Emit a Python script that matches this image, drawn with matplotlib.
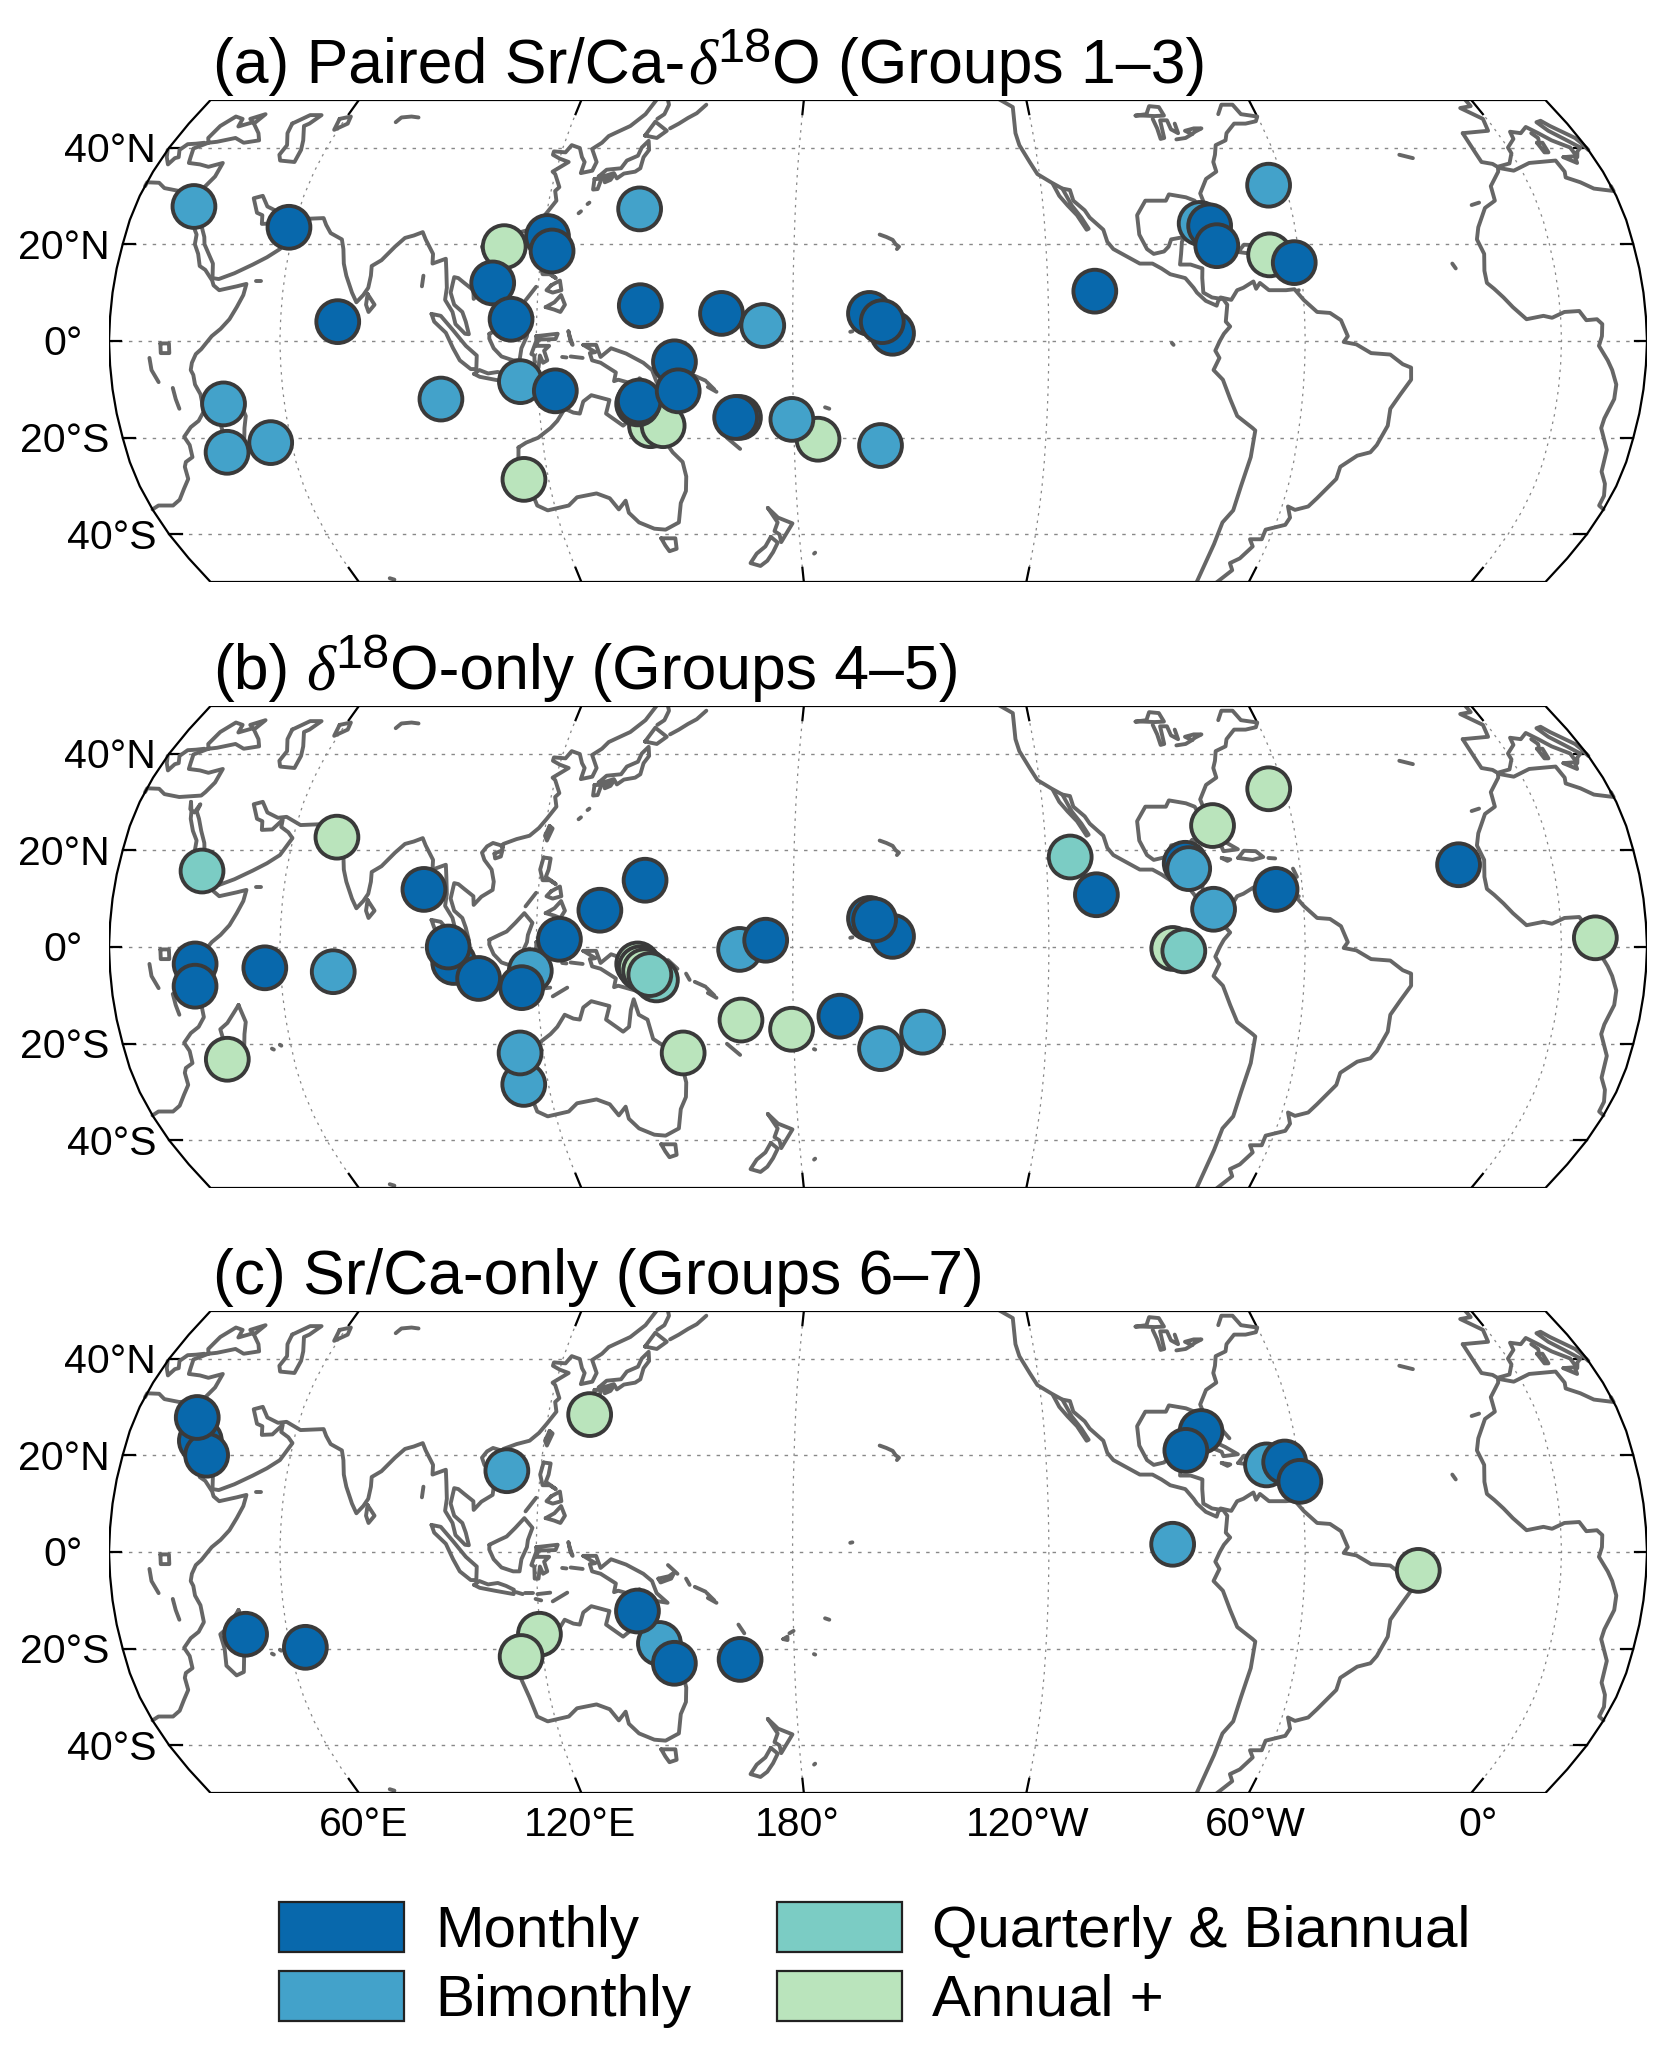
import matplotlib
matplotlib.use("Agg")
import matplotlib.pyplot as plt
import numpy as np
from matplotlib.patches import Patch, Polygon

plt.rcParams["font.family"] = ["Liberation Sans", "DejaVu Sans"]

# Robinson projection table
ROB_LAT = [0, 5, 10, 15, 20, 25, 30, 35, 40, 45, 50, 55]
ROB_PLEN = [1.0, 0.9986, 0.9954, 0.99, 0.9822, 0.973, 0.96, 0.9427, 0.9216, 0.8962, 0.8679, 0.835]
ROB_PDFE = [0.0, 0.062, 0.124, 0.186, 0.248, 0.31, 0.372, 0.434, 0.4958, 0.5571, 0.6176, 0.6769]
LON0 = 200.0

CLASS_NAMES = ["Monthly", "Bimonthly", "Quarterly & Biannual", "Annual +"]
CLASS_COLORS = ["#0868ac", "#43a2ca", "#7bccc4", "#bae4bc"]
M, B, Q, A = 0, 1, 2, 3

# title pieces: plain text, greek letter, superscript, plain text
TITLE_A = ["(a) Paired Sr/Ca-", "δ", "18", "O (Groups 1–3)"]
TITLE_B = ["(b)", "δ", "18", "O-only (Groups 4–5)"]
TITLE_C = ["(c) Sr/Ca-only (Groups 6–7)"]

# sites, listed in drawing order
a_lon = [34.2, 58.7, 73.4, 45.6, 44.0, 55.0, 97.0, 111.0, 121.0, 122.5, 109.2, 114.0, 142.3, 144.2, 163.3, 173.0,
         146.0, 149.0, 114.0, 116.0, 124.1, 152.3, 143.3, 143.7, 153.0, 167.2, 166.3, 185.7, 179.6, 200.6, 198.0, 203.4,
         201.0, 251.0, 277.4, 279.6, 280.7, 296.0, 293.0, 298.6]
a_lat = [27.8, 23.5, 4.0, -13.0, -23.0, -21.0, -12.0, 19.5, 21.6, 18.6, 12.0, 4.5, 27.3, 7.3, 5.7, 3.2,
         -17.5, -17.5, -28.6, -8.4, -10.3, -4.3, -13.0, -12.4, -10.3, -15.8, -15.8, -20.3, -16.2, -21.6, 5.7, 1.6,
         4.0, 10.3, 24.3, 23.8, 19.7, 32.2, 17.8, 16.2]
a_cls = [B, M, M, B, B, B, B, A, M, M, M, M, B, M, M, B,
         A, A, A, B, M, M, M, M, M, M, M, A, B, B, M, M,
         M, M, B, M, M, B, A, M]

b_lon = [40.0, 70.4, 40.0, 39.6, 56.3, 72.3, 44.0, 93.0, 100.6, 99.4, 106.3, 118.5, 116.3, 114.0, 114.4, 125.4,
         134.7, 145.0, 148.0, 143.7, 144.3, 145.3, 146.5, 167.6, 173.7, 167.6, 179.5, 191.0, 200.6, 210.6, 153.4, 203.4,
         198.0, 199.2, 245.7, 251.4, 272.9, 273.6, 280.5, 278.8, 296.2, 293.8, 269.0, 271.6, 337.7, 368.0]
b_lat = [15.7, 22.7, -3.5, -8.1, -4.3, -5.1, -23.2, 11.9, -3.2, 0.0, -6.5, -4.9, -8.4, -28.4, -21.9, 1.6,
         7.6, 13.8, -6.8, -3.5, -4.3, -4.9, -5.7, -0.5, 1.4, -15.1, -17.0, -14.3, -21.0, -17.6, -21.9, 2.2,
         5.9, 5.6, 18.6, 10.8, 17.3, 16.2, 25.1, 7.8, 32.7, 11.9, -0.3, -0.8, 17.0, 1.9]
b_cls = [Q, A, M, M, M, B, A, M, M, M, M, B, M, B, B, M,
         M, M, Q, A, A, A, Q, B, M, A, A, M, B, B, A, M,
         M, M, Q, M, M, B, A, B, A, M, A, Q, M, A]

c_lon = [37.6, 40.0, 35.0, 50.0, 63.6, 112.0, 130.0, 148.0, 143.3, 151.2, 119.7, 114.7, 167.0, 269.0, 277.7, 273.5,
         292.3, 296.7, 299.7, 326.6]
c_lat = [23.0, 20.0, 27.8, -17.0, -19.7, 16.8, 28.4, -18.9, -12.2, -23.0, -17.0, -21.6, -22.2, 1.6, 24.9, 21.0,
         18.0, 18.6, 14.6, -3.8]
c_cls = [M, M, M, M, M, B, A, B, M, M, A, A, M, B, M, M,
         B, M, M, A]

LAT_TICKS = [40, 20, 0, -20, -40]
LAT_LABELS = ["40°N", "20°N", "0°", "20°S", "40°S"]
LON_TICKS = [60, 120, 180, 240, 300, 360]
LON_LABELS = ["60°E", "120°E", "180°", "120°W", "60°W", "0°"]
LON_NUDGE = [5, -1, -7, 1, 7, 7]

# coastlines, lon/lat read by eye; lon runs 20..380
africa_east = [(20, -34.8), (22, -34), (25.6, -34), (28, -32.8), (30.5, -30.5), (32.5, -28.5), (32.8, -26), (33.5, -25),
               (35.4, -24), (35.5, -21.5), (34.7, -19.8), (36.8, -17.8), (39, -16.5), (40.7, -14.5), (40.5, -11),
               (39.5, -9), (39.3, -7), (38.8, -6), (39.2, -4.5), (40.2, -2.7), (41.5, -1.7), (44, 1), (46, 2.5),
               (48, 4.5), (49.5, 7), (50.8, 9.5), (51.2, 11.8), (49, 11.3), (45, 10.5), (43.5, 11.5), (43, 12.5),
               (41, 14.7), (39.5, 15.5), (38.5, 18), (37.2, 20), (37, 22), (35.5, 24), (34, 26.5), (33.5, 28), (32.5, 30)]
asia_south = [(32.5, 30), (33, 28.5), (34.3, 27.8), (35, 29.5), (34.8, 28), (36, 26.5), (37.5, 24), (39, 21.5), (39.5, 20),
              (41, 18), (42.5, 16), (43, 13), (44.5, 12.8), (48, 14), (52, 15.8), (55, 17.3), (57.7, 19), (59.8, 22.5),
              (58.5, 23.7), (56.5, 24.8), (56.3, 26.3), (54.5, 24.3), (52, 24.2), (51.5, 26), (50, 26.5), (48, 29.5),
              (50, 30), (52, 27.8), (55, 26.7), (57, 26.9), (61, 25.2), (66.5, 25.4), (67.5, 24), (69, 22.3), (72, 21),
              (72.8, 19), (73.5, 16), (74.5, 13.5), (76.3, 10), (77.5, 8), (79, 9.5), (80, 11), (80.3, 13.5), (80.2, 15.5),
              (82.3, 16.7), (85, 19.5), (87, 21.3), (89, 21.8), (91, 22.5), (92, 21), (94.3, 18), (94.5, 16), (96, 16.5),
              (97.5, 17), (98, 14.5), (98.5, 11), (98.3, 8.5), (100.2, 6), (101, 3.5), (103.3, 1.5), (104.2, 1.4),
              (103.4, 4), (102.5, 6), (100.5, 7.5), (99.5, 10), (100, 13.2), (101, 13), (102.5, 12), (104.8, 10.5),
              (105, 8.7), (106.7, 10.4), (109.2, 11.8), (109.3, 13.5), (108.5, 16), (106.5, 18), (105.7, 19.5),
              (106.7, 20.8), (108, 21.5), (110, 21), (110.5, 20.3), (110.5, 21.3), (113.5, 22.3), (116.5, 23),
              (118.5, 24.6), (120, 26.5), (121.8, 29), (121, 31), (121.8, 31.8), (120, 34.5), (119.2, 35), (122.5, 37),
              (120, 37.7), (118, 38.5), (118, 39.2), (121, 39), (122, 40.5), (124.3, 39.9), (125.5, 38), (126.5, 37),
              (126.3, 34.7), (129, 35.2), (129.5, 37), (127.5, 39.7), (129.5, 41), (130.7, 42.4), (132.5, 43.2),
              (135.5, 44.5), (138.5, 47), (140.5, 50.5)]
med_east = [(20, 32), (20, 32.8), (23, 32.7), (25, 31.6), (29, 31), (32.5, 31.2), (34.2, 31.3), (34.8, 32), (36, 34), (36, 36.8),
            (33, 36), (30.5, 36.5), (27.5, 36.8), (27, 38), (26.3, 39.8), (29, 41), (31, 41.2), (35, 42), (38, 41), (41.5, 41.5),
            (40, 43), (37, 45), (38, 47), (35, 46), (36.5, 45.3), (33.5, 44.4), (33, 46), (30.7, 46.5), (28.7, 44.5),
            (28, 42), (29, 41)]
greece = [(20, 39.5), (21, 38), (22.5, 36.5), (23.2, 37.8), (24, 38), (23, 39.5), (24, 40.7), (26, 40.8), (28, 41)]
caspian = [(47, 45), (50, 46.8), (53, 46.8), (51.5, 45), (50.5, 44.5), (52.8, 41.5), (53.8, 39.5), (53.8, 37), (50, 37.3),
           (49, 38.5), (49.5, 40.5), (47.5, 43), (47, 45)]
aral = [(58.5, 46), (61, 46.5), (61.5, 45), (59, 43.7), (58.5, 46)]
balkhash = [(73.8, 45.3), (74.5, 46.3), (77, 46.5), (79, 46.3)]
victoria = [(32, -0.5), (34, -0.5), (34, -2.5), (32, -2.5), (32, -0.5)]
tanganyika = [(29.3, -3.5), (29.6, -6), (31, -8.5)]
malawi = [(34.2, -9.7), (34.5, -12), (35, -14)]
madagascar = [(49.3, -12), (50.4, -15.5), (49.5, -18), (47.5, -24.8), (45.5, -25.5), (43.7, -23.5), (44.3, -20), (44, -17),
              (46, -15.7), (48, -13.5), (49.3, -12)]
mascarene = [(55.3, -21), (55.7, -21.2)]
mauritius = [(57.4, -20.2), (57.7, -20.4)]
socotra = [(53.4, 12.5), (54.4, 12.5)]
sri_lanka = [(80, 9.7), (81.8, 7.5), (80.5, 6), (79.8, 7.5), (80, 9.7)]
andaman = [(92.7, 13.5), (92.6, 11.3)]
sumatra = [(95.3, 5.6), (97.5, 5.2), (100.5, 2.2), (103.5, -1), (106, -3), (105.8, -5.8), (104.5, -5.8), (102, -4), (100.5, -1.5),
           (98.8, 1.7), (96, 4), (95.3, 5.6)]
java = [(105.2, -6.8), (106.5, -6), (108.5, -6.7), (110.8, -6.4), (112.7, -7), (114.5, -7.8), (114.4, -8.7), (110, -8),
        (106.5, -7.4), (105.2, -6.8)]
borneo = [(109, 1.5), (111.3, 2.5), (113, 3.2), (115, 5), (117, 7), (119, 5), (118, 2.5), (117.8, 1), (116.5, -1.5), (116, -4),
          (114.5, -4), (111.8, -3.2), (110, -1.5), (109, 0.5), (109, 1.5)]
sulawesi = [(120, 1), (125, 1.5), (124.5, 0.4), (120.5, 0.3), (120, -1), (123, -1), (121.8, -2), (122.5, -4), (121.5, -4.5),
            (120.8, -3), (120.4, -5.5), (119.5, -5.5), (119.5, -3), (118.8, -2.7), (120, 0), (120, 1)]
bali_lombok = [(115, -8.3), (116.5, -8.7)]
sumbawa = [(117, -8.5), (119, -8.5)]
flores = [(120, -8.7), (123, -8.4)]
timor = [(123.5, -10.2), (127, -8.4)]
sumba = [(119.5, -9.7), (120.8, -10)]
halmahera = [(127.5, 2), (128, 0), (128.5, -0.8), (127.8, 1), (127.5, 2)]
seram = [(128, -3.2), (130.8, -3.5)]
buru = [(126, -3.3), (127, -3.4)]
luzon = [(120.5, 18.5), (122.2, 18.3), (122, 16), (121.5, 14.5), (124, 13), (122.5, 13.8), (120.8, 13.8), (120, 16), (120.5, 18.5)]
mindanao = [(122, 7), (124, 8), (125.5, 9.5), (126.5, 7.5), (125.5, 6), (124, 6.5), (122, 7)]
visayas = [(123, 11.5), (125, 12.5), (125.5, 10.5), (123.5, 10), (122, 10.5), (123, 11.5)]
palawan = [(117.2, 8.4), (119.5, 11.2)]
hainan = [(108.7, 19.3), (110.5, 20), (110.3, 18.7), (109, 18.3), (108.7, 19.3)]
taiwan = [(121, 25), (120.2, 23), (120.8, 22), (121.8, 24.5), (121, 25)]
ryukyu = [(127.7, 26.4), (128.2, 26.8)]
ryukyu2 = [(129.5, 28.3), (129.9, 28.6)]
new_guinea = [(131, -0.8), (134, -0.8), (135, -3.3), (137.5, -1.5), (141, -2.6), (145, -4.5), (147, -6), (148, -8.5), (150.5, -10.5),
              (147, -10), (144, -7.7), (143, -9), (139, -8), (138, -8.3), (138.5, -6.5), (135, -4.5), (133, -4), (132.5, -2.5),
              (133.8, -2.3), (131, -0.8)]
new_britain = [(148.5, -5.5), (151, -5), (152.3, -4.2), (151.5, -5.5), (149, -6.3), (148.5, -5.5)]
new_ireland = [(150.8, -2.7), (153, -4.5)]
solomons1 = [(155, -5.5), (155.8, -6.8)]
solomons2 = [(157, -7.2), (159.5, -8.2)]
solomons3 = [(159.8, -8.5), (161.5, -10)]
solomons4 = [(160, -9.5), (162, -10.5)]
vanuatu = [(167, -15), (168.3, -16.8)]
new_caledonia = [(164, -20), (167, -22.3)]
fiji1 = [(177.5, -18), (178.5, -17.5), (178.5, -18.2), (177.5, -18)]
fiji2 = [(179, -16.8), (180, -16.3)]
samoa = [(187.5, -13.7), (188.5, -14)]
tonga = [(184.7, -21.1), (185, -21.2)]
australia = [(114, -22), (113.5, -25), (115, -30), (115.7, -34), (118, -35), (123.5, -34), (126, -32.3), (131, -31.5), (134, -32.5),
             (135.7, -34.8), (137.8, -33), (138, -35.5), (140, -37.5), (143.5, -38.8), (146.3, -39), (150, -37.5), (151.3, -33.5),
             (153, -31), (153.5, -28), (153, -25), (150.8, -23), (149, -20.5), (146.5, -19), (145.5, -15), (143.5, -14),
             (142.5, -10.8), (141.7, -13), (141, -16.5), (139.5, -17.5), (135.7, -15), (136.7, -12.2), (132.5, -11.2),
             (130.5, -12.5), (129.5, -15), (128, -14.8), (126, -14), (124, -16.5), (122.2, -18), (119, -20), (116, -21), (114, -22)]
tasmania = [(144.7, -40.8), (148.3, -40.8), (148, -43), (146, -43.5), (145.3, -42.3), (144.7, -40.8)]
nz_north = [(172.7, -34.5), (175, -36.5), (178.5, -37.7), (177, -39.5), (175.2, -41.6), (175, -40), (173.8, -39.3), (174.8, -37.5),
            (172.7, -34.5)]
nz_south = [(172.7, -40.5), (174.3, -41.7), (172.8, -43.7), (171, -45.5), (169, -46.6), (166.5, -46), (168.5, -44), (171, -42.5),
            (172.7, -40.5)]
chatham = [(183.4, -44), (183.7, -43.8)]
kerguelen = [(69, -49.2), (70, -49.5)]
honshu = [(130.9, 34), (132.5, 35.4), (136, 35.7), (137, 37.3), (139.5, 38.3), (140, 40), (141.3, 41.4), (142, 39.5), (141, 38),
          (140.8, 35.7), (139.7, 35), (137, 34.6), (135.5, 33.6), (134.5, 34.7), (132, 34), (130.9, 34)]
kyushu = [(130, 33.5), (131.7, 33.5), (131.3, 31.4), (130.2, 31.3), (130, 33.5)]
shikoku = [(132.3, 33.5), (134.5, 34.2), (134, 33.3), (132.7, 32.8), (132.3, 33.5)]
hokkaido = [(140, 42.5), (141.7, 45.4), (145.3, 43.5), (143.2, 42), (140, 42.5)]
sakhalin = [(142, 46), (143.5, 47), (144, 49), (143, 50.5)]
kurils = [(146, 44), (148, 45), (150, 46.2), (152, 47.2), (154, 49)]
hawaii = [(200.4, 22), (202, 21.5), (203.5, 20.9), (204.2, 20), (205, 19.5), (204.5, 19)]
marshall = [(193.5, 1.9), (194, 2)]
galapagos = [(268.8, -0.4), (269.2, -0.8)]
na_pacific = [(232, 50.5), (236, 48.5), (235.5, 43), (236, 40.5), (238, 37), (239.5, 34.5), (242.8, 32.7), (245.2, 31.5), (247, 31.2),
              (247.5, 29), (250, 27), (251, 25.5), (254, 23), (254.7, 20.5), (256, 19), (259, 17.5), (262, 16), (265, 16), (267, 15),
              (269, 13.8), (272.5, 13), (274.3, 11), (275, 10), (277, 8.3), (279.5, 7.3), (280, 8.5), (281, 8.8), (282, 7.5),
              (281.5, 4), (282.5, 3), (281, 1.5), (280, 0), (279, -2), (280, -3.5), (278.7, -6), (281, -8), (283, -12), (285, -15.5),
              (289, -18), (289.7, -18.5), (289.5, -24), (288.5, -30), (288.2, -35), (286.5, -37.5), (286.3, -42), (286, -50.5)]
baja = [(243, 32.5), (244.2, 30), (246, 28), (248, 26), (250, 23), (250.5, 23.2), (249, 25.5), (247, 28), (245.2, 31.5)]
na_gulf = [(280, 8.8), (278.5, 9), (276.5, 10), (276.5, 13), (276.7, 15), (274, 15.8), (271.5, 15.8), (272, 18), (272.5, 20.5),
           (273.2, 21.5), (270, 21), (269.2, 19.5), (268, 18.5), (265.5, 18), (264, 19), (262.5, 22), (262.5, 26), (265, 29),
           (270, 29), (271, 30.3), (275, 29.7), (277, 29), (278, 27), (279, 25.2), (279.8, 26), (278.7, 30.5), (281, 33.5),
           (284, 35), (284, 37), (285, 38.5), (286, 40.5), (289, 41.5), (290, 43), (293, 45), (296, 45), (299, 45.5), (300, 46.5),
           (296, 47), (295, 49), (292, 49), (290, 47)]
superior = [(268, 46.7), (271, 47), (272.5, 48.7), (275, 48.5), (275.5, 46.7), (273, 46.6), (270, 46.7), (268, 46.7)]
michigan = [(272.2, 46), (272.5, 44), (272.5, 41.8), (273.5, 42), (274, 45.7), (275.8, 45.7), (276, 43.8), (277.5, 43), (277.5, 45)]
erie_ontario = [(276.5, 41.7), (279, 42), (281, 42.8), (279.5, 43.5), (282, 44), (284, 44), (282, 43.3), (281, 42.8)]
cuba = [(275, 22), (277.5, 23.2), (280, 23), (283, 21.7), (285.8, 20.2), (282.3, 19.8), (282, 20.7), (278.5, 22), (276, 21.9), (275, 22)]
hispaniola = [(285.6, 18.4), (287.2, 19.9), (290, 19.8), (291.6, 18.6), (289, 18), (285.6, 18.4)]
jamaica = [(281.7, 18.4), (283.7, 18.1), (283, 17.8), (281.7, 18.4)]
puerto_rico = [(292.8, 18.4), (294.4, 18.3)]
bahamas = [(282, 26.5), (283, 25), (284.3, 23.5)]
antilles = [(298.3, 16.2), (299, 14.5)]
trinidad = [(298.5, 10.3), (299, 10.5)]
sa_north = [(280.5, 9), (283, 8.5), (284.5, 10.5), (286, 11), (288.5, 12.3), (289, 10.8), (290, 12), (292, 10.5), (296, 10.5), (298, 10.7),
            (300, 8.5), (303, 6), (306, 5.8), (308.5, 4.3), (310, 1), (309, -0.2), (312, -0.7), (315.5, -2.5), (320, -2.8), (323, -4.8),
            (325, -5.5), (325.2, -8), (323, -11), (321, -14), (321, -17.5), (319.2, -21.5), (318, -23), (315, -23.7), (311.5, -26),
            (311.3, -28.5), (308, -32.5), (306.5, -34.2), (303.5, -34.9), (301.5, -34.2), (303, -36.5), (302.5, -38), (298, -39),
            (298, -41), (295, -41), (296.5, -42.5), (294.5, -45), (292.5, -46), (294, -47.5), (291, -50.5)]
africa_west = [(354.5, 35.8), (354, 35), (350.5, 32), (350, 29), (347, 27.5), (344, 23.5), (343, 21), (344, 18), (343.3, 14.5), (343.5, 12),
               (345, 10.8), (347, 9), (349, 7), (352, 4.5), (356, 5.2), (358, 4.8), (361, 6), (364.5, 6.2), (366, 4.3), (368.5, 4.5),
               (369.7, 3.5), (369.5, 1), (368.8, -1), (371, -4), (372.2, -6), (373.5, -9), (373.5, -12), (372, -16), (371.8, -18),
               (374.5, -22.5), (375, -27), (377, -29.5), (378.3, -32), (378.4, -34), (380, -34.8)]
africa_med = [(354.5, 35.8), (358, 35.2), (363, 36.8), (370, 37.3), (370.5, 35), (370, 33.8), (373, 32.8), (375.5, 31.5), (380, 31), (380, 32)]
iberia = [(351, 43), (351, 38.7), (351.2, 37), (353.7, 36.6), (354.5, 36), (358, 36.7), (360, 38.8), (360, 40), (363, 41.8), (363.5, 43.3),
          (366, 43), (368.5, 44.3), (370.5, 43), (372.5, 41.5), (375.8, 40), (376, 38), (377, 39.2), (378.4, 40), (376, 41.8), (373.6, 43.5),
          (372.3, 45.3), (373.7, 45.6), (375, 44.5), (379, 42), (379.5, 41), (380, 39.5)]
biscay = [(351, 43), (358, 43.5), (359, 46), (355.3, 48.3), (358.5, 48.7), (358.5, 50.5)]
sicily = [(372.5, 38), (375.5, 38.2), (375, 36.8), (372.5, 38)]
sardinia = [(368.3, 41), (369.7, 41), (369.5, 39), (368.5, 39), (368.3, 41)]
corsica = [(368.7, 43), (369.5, 42), (369.2, 41.5)]
canaries = [(344, 28.1), (346, 28.6)]
azores = [(331.5, 38.5), (334.5, 37.8)]
cape_verde = [(336, 16), (336.6, 15)]

COASTS = [africa_east, asia_south, med_east, greece, caspian, aral, balkhash, victoria, tanganyika, malawi, madagascar, mascarene,
          mauritius, socotra, sri_lanka, andaman, sumatra, java, borneo, sulawesi, bali_lombok, sumbawa, flores, timor, sumba,
          halmahera, seram, buru, luzon, mindanao, visayas, palawan, hainan, taiwan, ryukyu, ryukyu2, new_guinea, new_britain,
          new_ireland, solomons1, solomons2, solomons3, solomons4, vanuatu, new_caledonia, fiji1, fiji2, samoa, tonga, australia,
          tasmania, nz_north, nz_south, chatham, kerguelen, honshu, kyushu, shikoku, hokkaido, sakhalin, kurils, hawaii, marshall,
          galapagos, na_pacific, baja, na_gulf, superior, michigan, erie_ontario, cuba, hispaniola, jamaica, puerto_rico, bahamas,
          antilles, trinidad, sa_north, africa_west, africa_med, iberia, biscay, sicily, sardinia, corsica, canaries, azores,
          cape_verde]


def project(lon, lat):
    lon = np.asarray(lon, dtype=float)
    lat = np.asarray(lat, dtype=float)
    plen = np.interp(np.abs(lat), ROB_LAT, ROB_PLEN)
    pdfe = np.interp(np.abs(lat), ROB_LAT, ROB_PDFE)
    x = 0.8487 * plen * np.radians(lon - LON0)
    y = 1.3523 * pdfe * np.sign(lat)
    return x, y


def draw_title(fig, parts, x_px, y_px):
    # written piece by piece so the delta and the raised 18 keep their own size
    renderer = fig.canvas.get_renderer()
    x = x_px
    for part in parts:
        kw = {"fontsize": 45}
        y = y_px
        if part == "δ":
            kw["family"] = ["Liberation Serif"]
            kw["style"] = "italic"
            x += 3
        elif part == "18":
            kw["fontsize"] = 35
            y = y_px - 21
        t = fig.text(x / W, 1 - y / H, part, ha="left", va="baseline", **kw)
        x = t.get_window_extent(renderer).x1
        if part == "(b)":
            x += 14


def draw_panel(ax, lon, lat, cls, show_lon=False):
    lats = np.linspace(-50, 50, 101)
    xl, yl = project(np.full_like(lats, 20.0), lats)
    xr, yr = project(np.full_like(lats, 380.0), lats)
    outline = np.r_[np.c_[xl, yl], np.c_[xr[::-1], yr[::-1]]]
    frame = Polygon(outline, closed=True, ec="black", lw=1.6, zorder=5, fill=False)
    ax.add_patch(frame)

    # graticule
    for la in LAT_TICKS:
        x0, y0 = project(20, la)
        x1, y1 = project(380, la)
        ax.plot([x0, x1], [y0, y1], color="#888888", lw=1.0, ls=(0, (2.5, 4.5)), zorder=1)
        ax.plot([x0, x0 + 0.0425], [y0, y0], color="black", lw=1.6, zorder=2)
        ax.plot([x1 - 0.0425, x1], [y1, y1], color="black", lw=1.6, zorder=2)
    for lo in LON_TICKS:
        x, y = project(np.full_like(lats, float(lo)), lats)
        ax.plot(x, y, color="#888888", lw=0.9, ls=(0, (2, 4)), zorder=1)
        ax.plot(x[:4], y[:4], color="black", lw=1.6, zorder=2)
        ax.plot(x[-4:], y[-4:], color="black", lw=1.6, zorder=2)

    # coast runs stop at the frame on their own, top and bottom clip to the axes
    for part in COASTS:
        pts = np.array(part)
        x, y = project(pts[:, 0], pts[:, 1])
        ax.plot(x, y, color="#666666", lw=2.8, solid_joinstyle="round", solid_capstyle="round", zorder=3)

    x, y = project(lon, lat)
    colors = [CLASS_COLORS[c] for c in cls]
    ax.scatter(x, y, s=950, c=colors, edgecolors="#3a3a3a", linewidths=2.8, zorder=6, clip_on=False)

    for la, label in zip(LAT_TICKS, LAT_LABELS):
        x0, y0 = project(20, la)
        gap = 0.092 if la == 0 else 0.045
        ax.text(x0 - gap, y0 - 0.012, label, ha="right", va="center", fontsize=29.5, clip_on=False)
    if show_lon:
        for lo, label, nudge in zip(LON_TICKS, LON_LABELS, LON_NUDGE):
            x0, y0 = project(lo, -50)
            ax.text(x0 + nudge * 0.00347, y0 - 0.045, label, ha="center", va="top", fontsize=29.5, clip_on=False)

    ax.set_xlim(-0.8487 * np.pi, 0.8487 * np.pi)
    ax.set_ylim(-1.3523 * ROB_PDFE[10], 1.3523 * ROB_PDFE[10])
    ax.axis("off")


W, H = 1669, 2049
fig = plt.figure(figsize=(W / 100, H / 100), dpi=100)

ax_a = fig.add_axes([109 / W, 1 - 582 / H, 1538 / W, 482 / H])
ax_b = fig.add_axes([109 / W, 1 - 1188 / H, 1538 / W, 482 / H])
ax_c = fig.add_axes([109 / W, 1 - 1793 / H, 1538 / W, 482 / H])

draw_panel(ax_a, a_lon, a_lat, a_cls)
draw_panel(ax_b, b_lon, b_lat, b_cls)
draw_panel(ax_c, c_lon, c_lat, c_cls, show_lon=True)

draw_title(fig, TITLE_A, 213, 83)
draw_title(fig, TITLE_B, 213, 689)
draw_title(fig, TITLE_C, 213, 1294)

handles = [Patch(fc=c, ec="#222222", lw=1.6) for c in CLASS_COLORS]
fig.legend(handles, CLASS_NAMES, ncol=2, loc="lower left", bbox_to_anchor=(279 / W, 1 - 2028 / H), frameon=False, fontsize=42,
           handlelength=2.15, handleheight=0.94, handletextpad=0.52, columnspacing=1.47, labelspacing=0.2,
           borderpad=0, borderaxespad=0)

fig.savefig("out.png", dpi=100)
plt.close(fig)
